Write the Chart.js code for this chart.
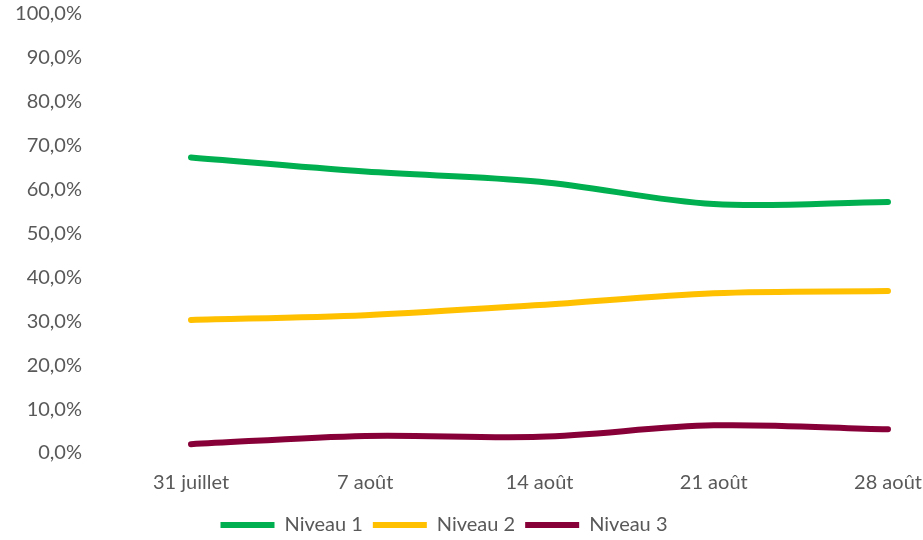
<!DOCTYPE html>
<html>
<head>
<meta charset="utf-8">
<script src="https://cdn.jsdelivr.net/npm/chart.js@4"></script>
<style>
  html, body { margin: 0; padding: 0; background: #fff; }
  #wrap { width: 923px; height: 540px; }
</style>
</head>
<body>
<div id="wrap"><canvas id="lineChart"></canvas></div>
<script>
const categories = ['31 juillet', '7 août', '14 août', '21 août', '28 août'];
const niveau1 = [67.3, 64.1, 61.8, 56.7, 57.2];
const niveau2 = [30.3, 31.4, 33.7, 36.4, 36.9];
const niveau3 = [2.0, 3.9, 3.7, 6.3, 5.4];

const textColor = '#595959';
const font = { family: 'Lato', size: 20 };

function serie(label, data, color) {
    return {
        label: label,
        data: data,
        borderColor: color,
        backgroundColor: color,
        borderWidth: 6,
        borderCapStyle: 'round',
        pointRadius: 0,
        pointHoverRadius: 0,
        tension: 0.33,
        fill: false
    };
}

new Chart(document.getElementById('lineChart'), {
    type: 'line',
    data: {
        labels: categories,
        datasets: [
            serie('Niveau 1', niveau1, '#00B050'),
            serie('Niveau 2', niveau2, '#FFC000'),
            serie('Niveau 3', niveau3, '#870037')
        ]
    },
    options: {
        responsive: true,
        maintainAspectRatio: false,
        animation: false,
        layout: { padding: { top: 14, right: 35, bottom: 0, left: 0 } },
        scales: {
            x: {
                offset: false,
                grid: { display: false, drawTicks: false },
                border: { display: false },
                ticks: { color: textColor, font: font, padding: 18, maxRotation: 0 },
                afterFit(scale) {
                    // keep tick padding from eating into the plot width
                    scale.height = 52;
                    scale.paddingLeft = 0;
                    scale.paddingRight = 0;
                }
            },
            y: {
                min: 0,
                max: 100,
                grid: { display: false, drawTicks: false },
                border: { display: false },
                ticks: {
                    stepSize: 10,
                    color: textColor,
                    font: font,
                    padding: 109,
                    callback: v => v.toFixed(1).replace('.', ',') + '%'
                },
                afterFit(scale) {
                    scale.width = 191;
                    scale.paddingTop = 0;
                    scale.paddingBottom = 0;
                }
            }
        },
        plugins: {
            tooltip: { enabled: false },
            legend: {
                position: 'bottom',
                maxHeight: 35,
                labels: {
                    color: textColor,
                    font: font,
                    usePointStyle: true,
                    pointStyle: 'line',
                    pointStyleWidth: 54,
                    padding: 10
                }
            }
        }
    }
});
</script>
</body>
</html>
